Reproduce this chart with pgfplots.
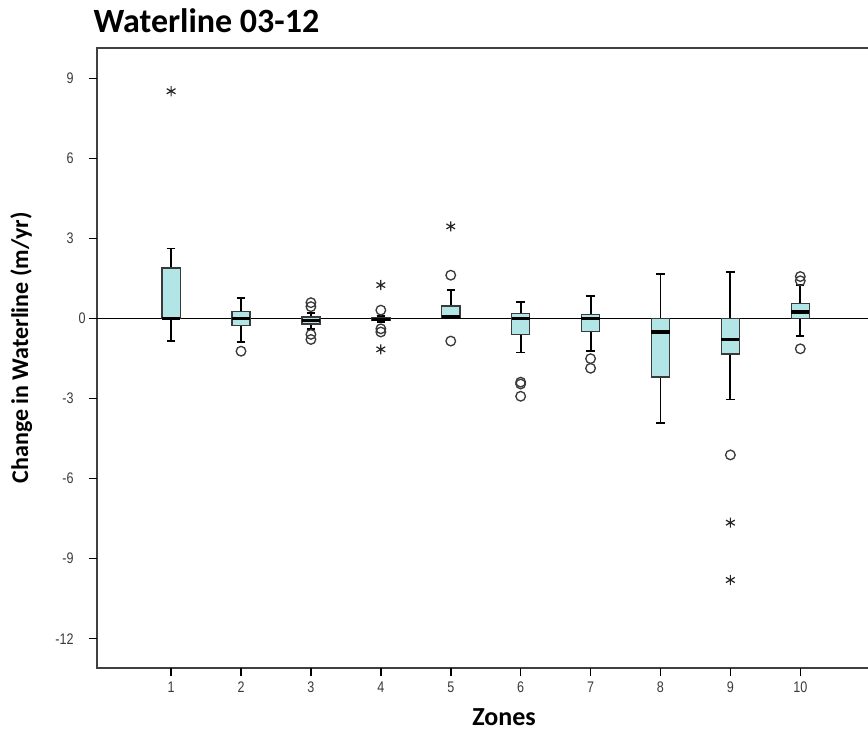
\documentclass[border=0pt]{standalone}
\usepackage{pgfplots}
\pgfplotsset{compat=1.18}
\usepgfplotslibrary{statistics}
\usepackage{fontspec}
\setmainfont{Liberation Sans}
\newfontfamily\calibri{Carlito}
\newfontfamily\narrow{Liberation Sans}[FakeStretch=0.82]
\definecolor{boxcyan}{HTML}{B2E6E6}
\definecolor{boxedge}{HTML}{3A3A3A}
\definecolor{ticktext}{HTML}{3A3A3A}
\begin{document}
\begin{tikzpicture}
\begin{axis}[
  at={(72.75pt,48.75pt)}, anchor=south west,
  scale only axis, width=582pt, height=465pt,
  xmin=-0.06, xmax=11.04, ymin=-13.1, ymax=10.15,
  axis line style={line width=1pt, color=black!75},
  xtick={1,2,3,4,5,6,7,8,9,10}, ytick={-12,-9,-6,-3,3,6,9},
  extra y ticks={0},
  extra y tick style={yticklabel style={xshift=9pt}},
  tick pos=left,
  tick align=outside,
  major tick length=6pt,
  every tick/.append style={draw=black, line width=1.2pt},
  /pgf/number format/assume math mode=true,
  ticklabel style={font=\narrow\fontsize{11.5}{13}\selectfont, color=ticktext},
  yticklabel style={xshift=-8pt},
  xticklabel style={yshift=-1pt},
  clip=false,
]
\addplot[black, line width=0.9pt] coordinates {(-0.06,0) (11.04,0)};

\pgfplotsset{
  zbox/.style={
    draw=boxedge, fill=boxcyan, line width=1pt, solid,
    mark=none,
    boxplot/draw direction=y,
    boxplot/box extend=0.26, boxplot/whisker extend=0.12,
    boxplot/every median/.style={line width=2.5pt, black},
    boxplot/every whisker/.style={line width=1.4pt, black},
    boxplot/every box/.style={draw=boxedge, fill=boxcyan, line width=1pt},
  }
}
% zone 1
\addplot[zbox, boxplot prepared={draw position=1, lower whisker=-0.85, lower quartile=0.0, median=0.0, upper quartile=1.90, upper whisker=2.63}] coordinates {};
% zone 2
\addplot[zbox, boxplot prepared={draw position=2, lower whisker=-0.88, lower quartile=-0.25, median=0.0, upper quartile=0.27, upper whisker=0.79}] coordinates {};
% zone 3
\addplot[zbox, boxplot prepared={draw position=3, lower whisker=-0.40, lower quartile=-0.20, median=-0.06, upper quartile=0.06, upper whisker=0.22}] coordinates {};
% zone 4
\addplot[zbox, boxplot prepared={draw position=4, lower whisker=-0.14, lower quartile=-0.08, median=-0.02, upper quartile=0.05, upper whisker=0.10}] coordinates {};
% zone 5
\addplot[zbox, boxplot prepared={draw position=5, lower whisker=0.03, lower quartile=0.04, median=0.07, upper quartile=0.47, upper whisker=1.06}] coordinates {};
% zone 6
\addplot[zbox, boxplot prepared={draw position=6, lower whisker=-1.27, lower quartile=-0.59, median=0.0, upper quartile=0.19, upper whisker=0.61}] coordinates {};
% zone 7
\addplot[zbox, boxplot prepared={draw position=7, lower whisker=-1.22, lower quartile=-0.47, median=0.0, upper quartile=0.16, upper whisker=0.84}] coordinates {};
% zone 8
\addplot[zbox, boxplot prepared={draw position=8, lower whisker=-3.91, lower quartile=-2.19, median=-0.50, upper quartile=0.0, upper whisker=1.69}] coordinates {};
% zone 9
\addplot[zbox, boxplot prepared={draw position=9, lower whisker=-3.03, lower quartile=-1.32, median=-0.78, upper quartile=0.0, upper whisker=1.75}] coordinates {};
% zone 10
\addplot[zbox, boxplot prepared={draw position=10, lower whisker=-0.65, lower quartile=0.0, median=0.25, upper quartile=0.56, upper whisker=1.25}] coordinates {};

% outliers (circles)
\addplot[only marks, mark=o, mark size=3.6pt, mark options={line width=1pt, draw=boxedge}] coordinates {
 (2,-1.22)
 (3,0.60) (3,0.45) (3,-0.59) (3,-0.78)
 (4,0.32) (4,-0.38) (4,-0.50)
 (5,1.63) (5,-0.84)
 (6,-2.38) (6,-2.45) (6,-2.91)
 (7,-1.50) (7,-1.86)
 (9,-5.11)
 (10,1.58) (10,1.42) (10,-1.13)
};
% extremes (asterisks)
\addplot[only marks, mark=asterisk, mark size=3.8pt, mark options={line width=0.9pt, draw=black!85}] coordinates {
 (1,8.53)
 (4,1.26) (4,-1.15)
 (5,3.46)
 (9,-7.65) (9,-9.80)
};
\end{axis}
% outside tick marks (axis decoration)
\draw[black, line width=1.2pt]
  (66.5pt,490.75pt) -- (72.75pt,490.75pt)
  (66.5pt,430.75pt) -- (72.75pt,430.75pt)
  (66.5pt,370.75pt) -- (72.75pt,370.75pt)
  (66.5pt,310.75pt) -- (72.75pt,310.75pt)
  (66.5pt,250.75pt) -- (72.75pt,250.75pt)
  (66.5pt,190.75pt) -- (72.75pt,190.75pt)
  (66.5pt,130.75pt) -- (72.75pt,130.75pt)
  (66.5pt,70.75pt) -- (72.75pt,70.75pt)
  (128.33pt,42.5pt) -- (128.33pt,48.75pt)
  (180.76pt,42.5pt) -- (180.76pt,48.75pt)
  (233.19pt,42.5pt) -- (233.19pt,48.75pt)
  (285.62pt,42.5pt) -- (285.62pt,48.75pt)
  (338.06pt,42.5pt) -- (338.06pt,48.75pt)
  (390.49pt,42.5pt) -- (390.49pt,48.75pt)
  (442.92pt,42.5pt) -- (442.92pt,48.75pt)
  (495.35pt,42.5pt) -- (495.35pt,48.75pt)
  (547.79pt,42.5pt) -- (547.79pt,48.75pt)
  (600.22pt,42.5pt) -- (600.22pt,48.75pt);
\node[anchor=base west, inner sep=0pt, font=\calibri\bfseries\fontsize{25.5}{28}\selectfont] at (70pt,525pt) {Waterline 03-12};
\node[rotate=90, font=\calibri\bfseries\fontsize{18}{20}\selectfont] at (16pt,289pt) {Change in Waterline (m/yr)};
\node[anchor=base, inner sep=0pt, font=\calibri\bfseries\fontsize{19.5}{22}\selectfont] at (378pt,6pt) {Zones};
\pgfresetboundingbox
\useasboundingbox (0pt,0pt) rectangle (651pt,549.75pt);
\end{tikzpicture}
\end{document}
